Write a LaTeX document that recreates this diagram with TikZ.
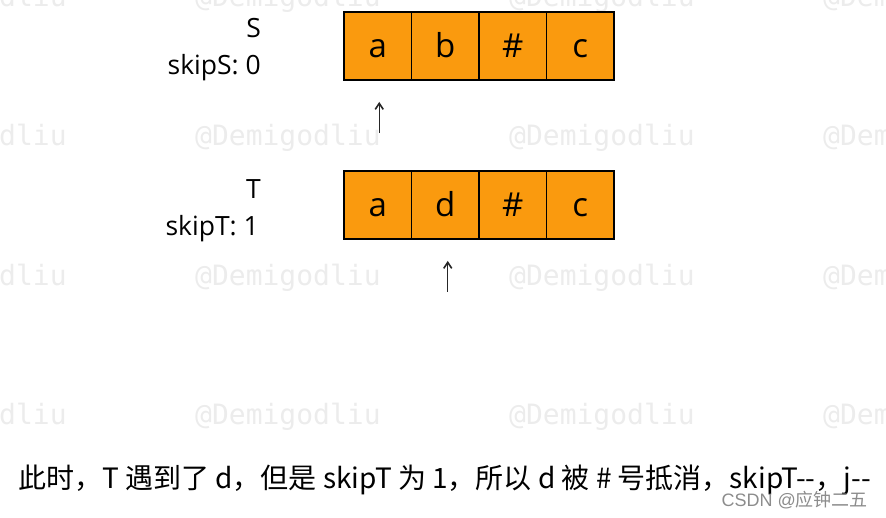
\documentclass[tikz,border=0pt]{standalone}
\usepackage{fontspec}
\setmainfont{Open Sans}
\newfontfamily\cjkfont{Noto Sans CJK SC}
\newfontfamily\monofont{DejaVu Sans Mono}
\newfontfamily\csdnfont{Liberation Sans}
\usetikzlibrary{arrows.meta,positioning}
\definecolor{cellorange}{RGB}{250,154,14}
\definecolor{wmgray}{RGB}{236,236,236}
\definecolor{csdngray}{RGB}{140,140,140}

\begin{document}
\begin{tikzpicture}[x=1pt,y=-1pt,
cell/.style={draw=black, line width=1.8pt, fill=cellorange,
  minimum width=67.5pt, minimum height=68pt, inner sep=0pt,
  text height=24pt, text depth=2pt, font=\fontsize{33}{33}\selectfont},
lbl/.style={anchor=base east, inner sep=0pt, font=\fontsize{26.5}{26.5}\selectfont},
ptr/.style={-{Straight Barb[length=6pt,width=8pt,line width=1.6pt]}, line width=1.4pt, black!85},
wmark/.style={anchor=west, inner sep=0pt, text=wmgray, font=\monofont\fontsize{28}{28}\selectfont}
]
\useasboundingbox (0,0) rectangle (886,517);

% Watermarks
\begin{scope}
\clip (0,0) rectangle (886,517);
\foreach \wy [count=\r] in {-1,138,278,417} {
\foreach \wx [count=\c] in {-119,195,509,823} {
\node[wmark] (wm\r\c) at (\wx,\wy) {@Demigodliu};
}
}
\end{scope}

% String S
\foreach \ch [count=\i] in {a,b,\#,c} {
\node[cell] (s\i) at ({310.25+67.5*\i},46) {\ch};
}
% String T
\foreach \ch [count=\i] in {a,d,\#,c} {
\node[cell] (t\i) at ({310.25+67.5*\i},205) {\ch};
}

% Labels
\node[lbl] (sname) at (261,37) {S};
\node[lbl] (sskip) at (261,74) {skipS: 0};
\node[lbl] (tname) at (261,198) {T};
\node[lbl] (tskip) at (259,235) {skipT: 1};

% Pointers
\coordinate (ps) at ([xshift=1.5pt,yshift=-52pt]s1.south);
\coordinate (pt) at ([xshift=2.5pt,yshift=-52pt]t2.south);
\draw[ptr] (ps) -- ([xshift=1.5pt,yshift=-21pt]s1.south);
\draw[ptr] (pt) -- ([xshift=2.5pt,yshift=-21pt]t2.south);

% Caption
\node[anchor=base west, inner sep=0pt, font=\cjkfont\fontsize{28}{28}\selectfont] (caption) at (18,488)
{此时，T 遇到了 d，但是 skipT 为 1，所以 d 被 \# 号抵消，skipT--，j--};
\node[anchor=base east, inner sep=0pt, text=csdngray, font=\fontsize{18}{18}\selectfont] (csdn) at (868,506)
{\csdnfont CSDN @\cjkfont 应钟二五};

\end{tikzpicture}
\end{document}
